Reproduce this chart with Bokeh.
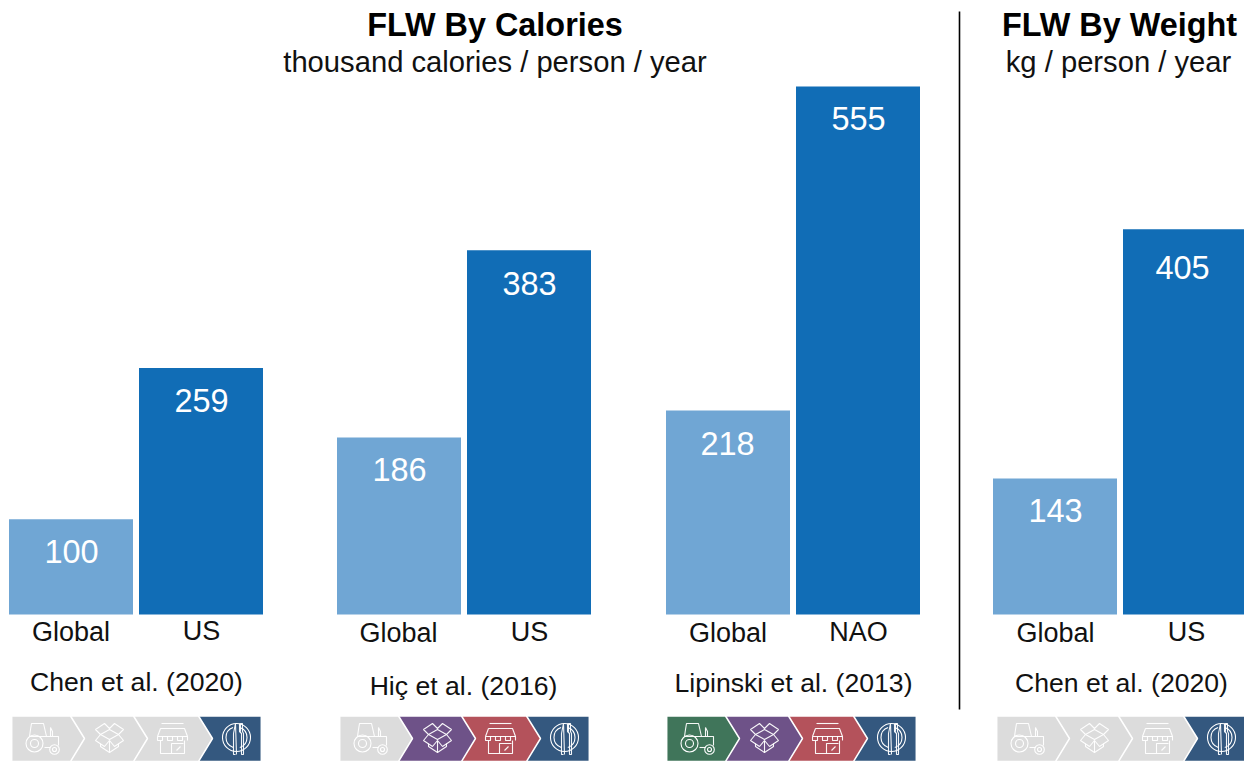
from bokeh.plotting import figure
from bokeh.embed import file_html
from bokeh.resources import INLINE
from bokeh.models import Range1d, LinearScale
from bokeh.core.properties import value

# ---- data
panels = ["Chen et al. (2020)", "Hiç et al. (2016)", "Lipinski et al. (2013)", "Chen et al. (2020)"]
region_a = ["Global", "Global", "Global", "Global"]
region_b = ["US", "US", "NAO", "US"]
labels_a = ["100", "186", "218", "143"]
labels_b = ["259", "383", "555", "405"]
# bar heights as drawn in the picture (the 218 bar is drawn slightly short of its label)
values_a = [100, 186, 214.5, 143]
values_b = [259, 383, 555, 405]
title_left = "FLW By Calories"
sub_left = "thousand calories / person / year"
title_right = "FLW By Weight"
sub_right = "kg / person / year"

# which stage chevrons are coloured per panel
GREY = "#dcdcdc"
stage_colors = ["#40755a", "#6e5288", "#b4525b", "#34587f"]
active = [[0, 0, 0, 1], [0, 1, 1, 1], [1, 1, 1, 1], [0, 0, 0, 1]]

# ---- layout (page pixels)
W, H = 1244, 761
BAR_W = 124
left_a = [8.5, 336.5, 665.5, 992.5]
left_b = [138.5, 466.5, 795.5, 1122.5]
val_x_a = [71, 399, 727, 1055]
val_y_a = [551, 469, 443, 510]
val_x_b = [201, 529, 858, 1182]
val_y_b = [400, 283, 118, 267]
lab_x_a = [70.5, 398, 727.5, 1055]
lab_y_a = [631, 632, 632, 632]
lab_x_b = [201, 529, 858, 1186]
lab_y_b = [630, 631, 631, 631]
cite_y = [681.5, 685.5, 682.5, 682.5]
cite_x = [136, 463, 793, 1121]
chev_x = [12, 340, 667, 997]
BASE = 614
TOP555 = 86
scale = (BASE - TOP555) / 555.0

p = figure(width=W, height=H, output_backend="svg", toolbar_location=None,
           x_range=Range1d(0, W),
           y_range=Range1d(-(H - BASE) / scale, BASE / scale),
           min_border=0, outline_line_color=None)
p.xaxis.visible = False
p.yaxis.visible = False
p.grid.visible = False
p.background_fill_color = "white"
p.extra_y_ranges = {"px": Range1d(H, 0)}
p.extra_y_scales = {"px": LinearScale()}

F = value("Liberation Sans")

xa = [l + BAR_W / 2 for l in left_a]
xb = [l + BAR_W / 2 for l in left_b]
p.vbar(x=xa, top=values_a, bottom=0, width=BAR_W, fill_color="#70a6d4", line_color=None)
p.vbar(x=xb, top=values_b, bottom=0, width=BAR_W, fill_color="#116db6", line_color=None)

def T(x, y, s, size, bold=False, color="#111111"):
    p.text(x=[x], y=[y], text=[s], y_range_name="px", text_font=F, text_font_size=size,
           text_font_style="bold" if bold else "normal", text_color=color,
           text_align="center", text_baseline="middle")

T(494.5, 24, title_left, "32.4px", True, "black")
T(494.5, 61, sub_left, "29.2px")
T(1119, 24, title_right, "32.4px", True, "black")
T(1118, 61, sub_right, "29.2px")

for i in range(4):
    T(val_x_a[i], val_y_a[i], labels_a[i], "32.5px", color="white")
    T(val_x_b[i], val_y_b[i], labels_b[i], "32.5px", color="white")
    T(lab_x_a[i], lab_y_a[i], region_a[i], "27px")
    T(lab_x_b[i], lab_y_b[i], region_b[i], "27px")
    T(cite_x[i], cite_y[i], panels[i], "26.6px")

# divider
p.segment(x0=[959], x1=[959], y0=[11], y1=[709], y_range_name="px", line_color="black", line_width=1.6)

# ---- chevrons
CH_T, CH_B = 715.5, 761
CH_W = 248
BOUNDS = [0, 58, 121, 186, CH_W]
TIP = 14

def tractor(cx, cy):
    ls = []
    ls.append(([cx-14, cx-13, cx-12, cx+0, cx+3], [cy-1, cy-8, cy-14, cy-14, cy-1]))
    ls.append(([cx-14, cx+15, cx+15], [cy-1, cy-1, cy+8]))
    ls.append(([cx+7, cx+7, cx+9, cx+9], [cy-1, cy-10, cy-6, cy-1]))
    ls.append(([cx+1, cx+7], [cy+10, cy+10]))
    return ls, [(cx-9, cy+6, 8.5), (cx-9, cy+6, 4), (cx+11, cy+12, 4.8), (cx+11, cy+12, 2)]

def box(cx, cy):
    ls = []
    ls.append(([cx-9, cx, cx+9, cx+14, cx+5, cx, cx-5, cx-14, cx-9], [cy-3, cy+2, cy-3, cy-8, cy-14, cy-9, cy-14, cy-8, cy-3]))
    ls.append(([cx-9, cx, cx+9], [cy-3, cy-8, cy-3]))
    ls.append(([cx-9, cx-14, cx-5, cx, cx+5, cx+14, cx+9], [cy-3, cy+3, cy+9, cy+3, cy+9, cy+3, cy-3]))
    ls.append(([cx-9, cx-9, cx, cx+9, cx+9], [cy+6, cy+9, cy+15, cy+9, cy+6]))
    ls.append(([cx, cx], [cy+3, cy+15]))
    return ls, []

def shop(cx, cy):
    ls = []
    ls.append(([cx-11, cx+11], [cy-14, cy-14]))
    ls.append(([cx-12, cx-15, cx+15, cx+12, cx-12], [cy-9, cy-1, cy-1, cy-9, cy-9]))
    ls.append(([cx-15, cx-15, cx-10, cx-10, cx-5, cx-5, cx, cx, cx+5, cx+5, cx+10, cx+10, cx+15, cx+15],
               [cy-1, cy+3, cy+3, cy-1, cy-1, cy+3, cy+3, cy-1, cy-1, cy+3, cy+3, cy-1, cy-1, cy+3]))
    ls.append(([cx-12, cx-12, cx+12, cx+12], [cy+3, cy+16, cy+16, cy+3]))
    ls.append(([cx-1, cx-1, cx+11], [cy+16, cy+6, cy+6]))
    ls.append(([cx+4, cx+8], [cy+13, cy+9]))
    return ls, []

def plate(cx, cy):
    ls = []
    ls.append(([cx-1, cx-3, cx-3, cx-1, cx-1, cx+0], [cy+17, cy+17, cy-4, cy-14, cy-14, cy+17]))
    ls.append(([cx+3, cx+3, cx+5, cx+5, cx+7, cx+7, cx+6, cx+6, cx+4, cx+4, cx+3],
               [cy-14, cy-6, cy-4, cy+17, cy+17, cy-4, cy-6, cy-14, cy-14, cy-6, cy-6]))
    return ls, [(cx, cy, 14)]

icons = [tractor, box, shop, plate]
ICON_POS = [31, 97, 160, 224]

for i in range(4):
    x0 = chev_x[i]
    for s in reversed(range(4)):
        l = x0 + BOUNDS[s]
        r = x0 + BOUNDS[s + 1]
        color = stage_colors[s] if active[i][s] else GREY
        cy = 738
        if s == 3:
            xs = [l - 1, r + 0.8, r + 0.8, l - 1, l - 1 + TIP]
            ys = [CH_T, CH_T, CH_B, CH_B, cy]
        elif s == 0:
            xs = [l - 0.8, r, r + TIP, r, l - 0.8]
            ys = [CH_T, CH_T, cy, CH_B, CH_B]
        else:
            xs = [l - 1, r, r + TIP, r, l - 1, l - 1 + TIP]
            ys = [CH_T, CH_T, cy, CH_B, CH_B, cy]
        p.patch(x=xs, y=ys, y_range_name="px", fill_color=color, line_color="white", line_width=1.5)
    for s in range(4):
        cx_icon = x0 + ICON_POS[s]
        ls, cs = icons[s](cx_icon, 737)
        p.multi_line(xs=[a for a, _ in ls], ys=[b for _, b in ls], y_range_name="px",
                     line_color="white", line_width=1.1, line_alpha=0.95)
        if cs:
            p.circle(x=[c[0] for c in cs], y=[c[1] for c in cs], radius=[c[2] for c in cs],
                     fill_color=None, line_color="white", line_width=1.1, y_range_name="px", radius_units="screen")
        if s == 3:
            p.arc(x=[cx_icon, cx_icon], y=[737, 737], radius=10.5, radius_units="screen",
                  start_angle=[1.9, -1.25], end_angle=[4.4, 1.25], line_color="white",
                  line_width=1.1, y_range_name="px")

open("out.html", "w").write(file_html(p, INLINE))
